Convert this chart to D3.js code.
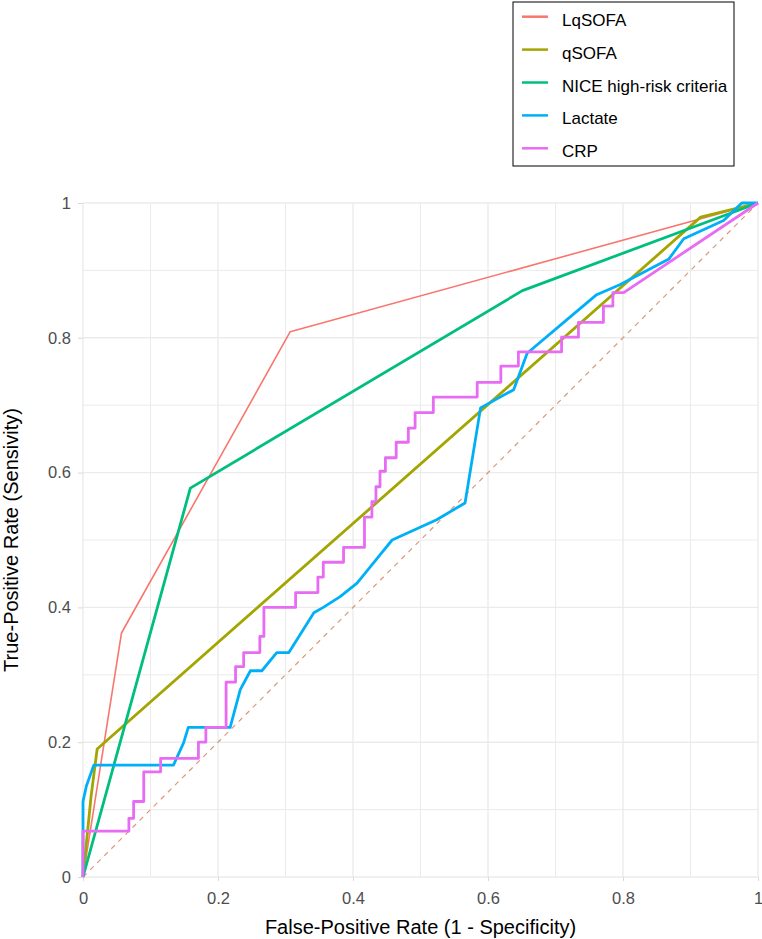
<!DOCTYPE html>
<html>
<head>
<meta charset="utf-8">
<script src="https://cdn.jsdelivr.net/npm/d3@7"></script>
<style>
  body { margin: 0; background: #fff; }
  text { font-family: "Liberation Sans", Arial, sans-serif; }
</style>
</head>
<body>
<div id="chart"></div>
<script>
// ROC curves
const seriesNames = ["LqSOFA", "qSOFA", "NICE high-risk criteria", "Lactate", "CRP"];
const seriesColors = ["#F8766D", "#A3A500", "#00BF7D", "#00B0F6", "#E76BF3"];

const lqsofaFpr = [0, 0.057, 0.307, 1];
const lqsofaTpr = [0, 0.362, 0.809, 1];

const qsofaFpr = [0, 0.012, 0.021, 0.915, 1];
const qsofaTpr = [0, 0.12, 0.19, 0.979, 1];

const niceFpr = [0, 0.159, 0.651, 1];
const niceTpr = [0, 0.577, 0.870, 1];

const lactateFpr = [0, 0, 0.005, 0.016, 0.134, 0.149, 0.156, 0.218, 0.233, 0.248, 0.265, 0.287, 0.305,
  0.342, 0.356, 0.381, 0.406, 0.44, 0.458, 0.524, 0.566, 0.589, 0.638, 0.658, 0.717, 0.761, 0.796,
  0.868, 0.89, 0.949, 0.976, 1];
const lactateTpr = [0, 0.112, 0.135, 0.166, 0.166, 0.199, 0.222, 0.222, 0.278, 0.306, 0.306, 0.333, 0.333,
  0.392, 0.400, 0.416, 0.436, 0.478, 0.5, 0.53, 0.555, 0.696, 0.723, 0.777, 0.827, 0.864, 0.879,
  0.917, 0.947, 0.974, 1, 1];

const crpFpr = [0, 0, 0.068, 0.068, 0.075, 0.075, 0.09, 0.09, 0.115, 0.115, 0.171, 0.171, 0.182, 0.182,
  0.212, 0.212, 0.226, 0.226, 0.238, 0.238, 0.262, 0.262, 0.268, 0.268, 0.315, 0.315, 0.348, 0.348,
  0.356, 0.356, 0.386, 0.386, 0.417, 0.417, 0.428, 0.428, 0.434, 0.434, 0.44, 0.44, 0.448, 0.448,
  0.464, 0.464, 0.482, 0.482, 0.492, 0.492, 0.519, 0.519, 0.584, 0.584, 0.619, 0.619, 0.645, 0.645,
  0.709, 0.709, 0.734, 0.734, 0.771, 0.771, 0.785, 0.785, 0.801, 1];
const crpTpr = [0, 0.068, 0.068, 0.087, 0.087, 0.112, 0.112, 0.156, 0.156, 0.176, 0.176, 0.2, 0.2, 0.222,
  0.222, 0.289, 0.289, 0.312, 0.312, 0.333, 0.333, 0.357, 0.357, 0.4, 0.4, 0.422, 0.422, 0.445,
  0.445, 0.467, 0.467, 0.489, 0.489, 0.534, 0.534, 0.557, 0.557, 0.579, 0.579, 0.602, 0.602, 0.622,
  0.622, 0.645, 0.645, 0.666, 0.666, 0.689, 0.689, 0.712, 0.712, 0.734, 0.734, 0.758, 0.758, 0.779,
  0.779, 0.801, 0.801, 0.823, 0.823, 0.847, 0.847, 0.867, 0.867, 1];

const xTicks = [0, 0.2, 0.4, 0.6, 0.8, 1];
const yTicks = [0, 0.2, 0.4, 0.6, 0.8, 1];
const minorTicks = [0.1, 0.3, 0.5, 0.7, 0.9];

const fprs = [lqsofaFpr, qsofaFpr, niceFpr, lactateFpr, crpFpr];
const tprs = [lqsofaTpr, qsofaTpr, niceTpr, lactateTpr, crpTpr];
const widths = [1.6, 2.8, 2.8, 2.8, 2.8];

const W = 762, H = 939;
const margin = { top: 203, right: 4, bottom: 62, left: 83 };
const width = W - margin.left - margin.right;
const height = H - margin.top - margin.bottom;

const svg = d3.select("#chart").append("svg")
  .attr("width", W)
  .attr("height", H);

const g = svg.append("g")
  .attr("transform", `translate(${margin.left},${margin.top})`);

const x = d3.scaleLinear().domain([0, 1]).range([0, width]);
const y = d3.scaleLinear().domain([0, 1]).range([height, 0]);

// grid
g.selectAll(".minor-x").data(minorTicks).enter().append("line")
  .attr("x1", d => x(d)).attr("x2", d => x(d))
  .attr("y1", 0).attr("y2", height)
  .attr("stroke", "#ebebeb").attr("stroke-width", 1);
g.selectAll(".minor-y").data(minorTicks).enter().append("line")
  .attr("y1", d => y(d)).attr("y2", d => y(d))
  .attr("x1", 0).attr("x2", width)
  .attr("stroke", "#ebebeb").attr("stroke-width", 1);
g.selectAll(".major-x").data(xTicks).enter().append("line")
  .attr("x1", d => x(d)).attr("x2", d => x(d))
  .attr("y1", 0).attr("y2", height)
  .attr("stroke", "#ebebeb").attr("stroke-width", 1.4);
g.selectAll(".major-y").data(yTicks).enter().append("line")
  .attr("y1", d => y(d)).attr("y2", d => y(d))
  .attr("x1", 0).attr("x2", width)
  .attr("stroke", "#ebebeb").attr("stroke-width", 1.4);

// axes
const xAxis = g.append("g")
  .attr("transform", `translate(0,${height})`)
  .call(d3.axisBottom(x).tickValues(xTicks).tickFormat(d3.format("~g")).tickSize(4).tickPadding(11));
const yAxis = g.append("g")
  .call(d3.axisLeft(y).tickValues(yTicks).tickFormat(d3.format("~g")).tickSize(5).tickPadding(7));
[xAxis, yAxis].forEach(a => {
  a.select(".domain").remove();
  a.selectAll(".tick line").attr("stroke", "#d9d9d9");
  a.selectAll(".tick text")
    .attr("fill", "#4d4d4d")
    .style("font-size", "16.5px")
    .style("font-family", "'Liberation Sans', Arial, sans-serif");
});

// reference diagonal
g.append("line")
  .attr("x1", x(0)).attr("y1", y(0))
  .attr("x2", x(1)).attr("y2", y(1))
  .attr("stroke", "#d9997c")
  .attr("stroke-width", 1.2)
  .attr("stroke-dasharray", "5,5");

// curves
const line = d3.line().x(d => x(d[0])).y(d => y(d[1]));
seriesNames.forEach((name, i) => {
  const pts = fprs[i].map((f, j) => [f, tprs[i][j]]);
  g.append("path")
    .datum(pts)
    .attr("fill", "none")
    .attr("stroke", seriesColors[i])
    .attr("stroke-width", widths[i])
    .attr("stroke-linejoin", "round")
    .attr("d", line);
});

// axis titles
svg.append("text")
  .attr("x", margin.left + width / 2)
  .attr("y", 934)
  .attr("text-anchor", "middle")
  .style("font-size", "20px")
  .attr("fill", "#000")
  .text("False-Positive Rate (1 - Specificity)");

svg.append("text")
  .attr("transform", `translate(18,${margin.top + height / 2}) rotate(-90)`)
  .attr("text-anchor", "middle")
  .style("font-size", "20px")
  .attr("fill", "#000")
  .text("True-Positive Rate (Sensivity)");

// legend
const legend = svg.append("g").attr("transform", "translate(513,2)");
legend.append("rect")
  .attr("width", 221).attr("height", 164)
  .attr("fill", "#fff").attr("stroke", "#000").attr("stroke-width", 1);
seriesNames.forEach((name, i) => {
  const ly = 14.7 + i * 32.9;
  legend.append("line")
    .attr("x1", 9).attr("x2", 35)
    .attr("y1", ly).attr("y2", ly)
    .attr("stroke", seriesColors[i]).attr("stroke-width", 2.5);
  legend.append("text")
    .attr("x", 49).attr("y", ly + 9)
    .style("font-size", "17px")
    .attr("fill", "#000")
    .text(name);
});
</script>
</body>
</html>
